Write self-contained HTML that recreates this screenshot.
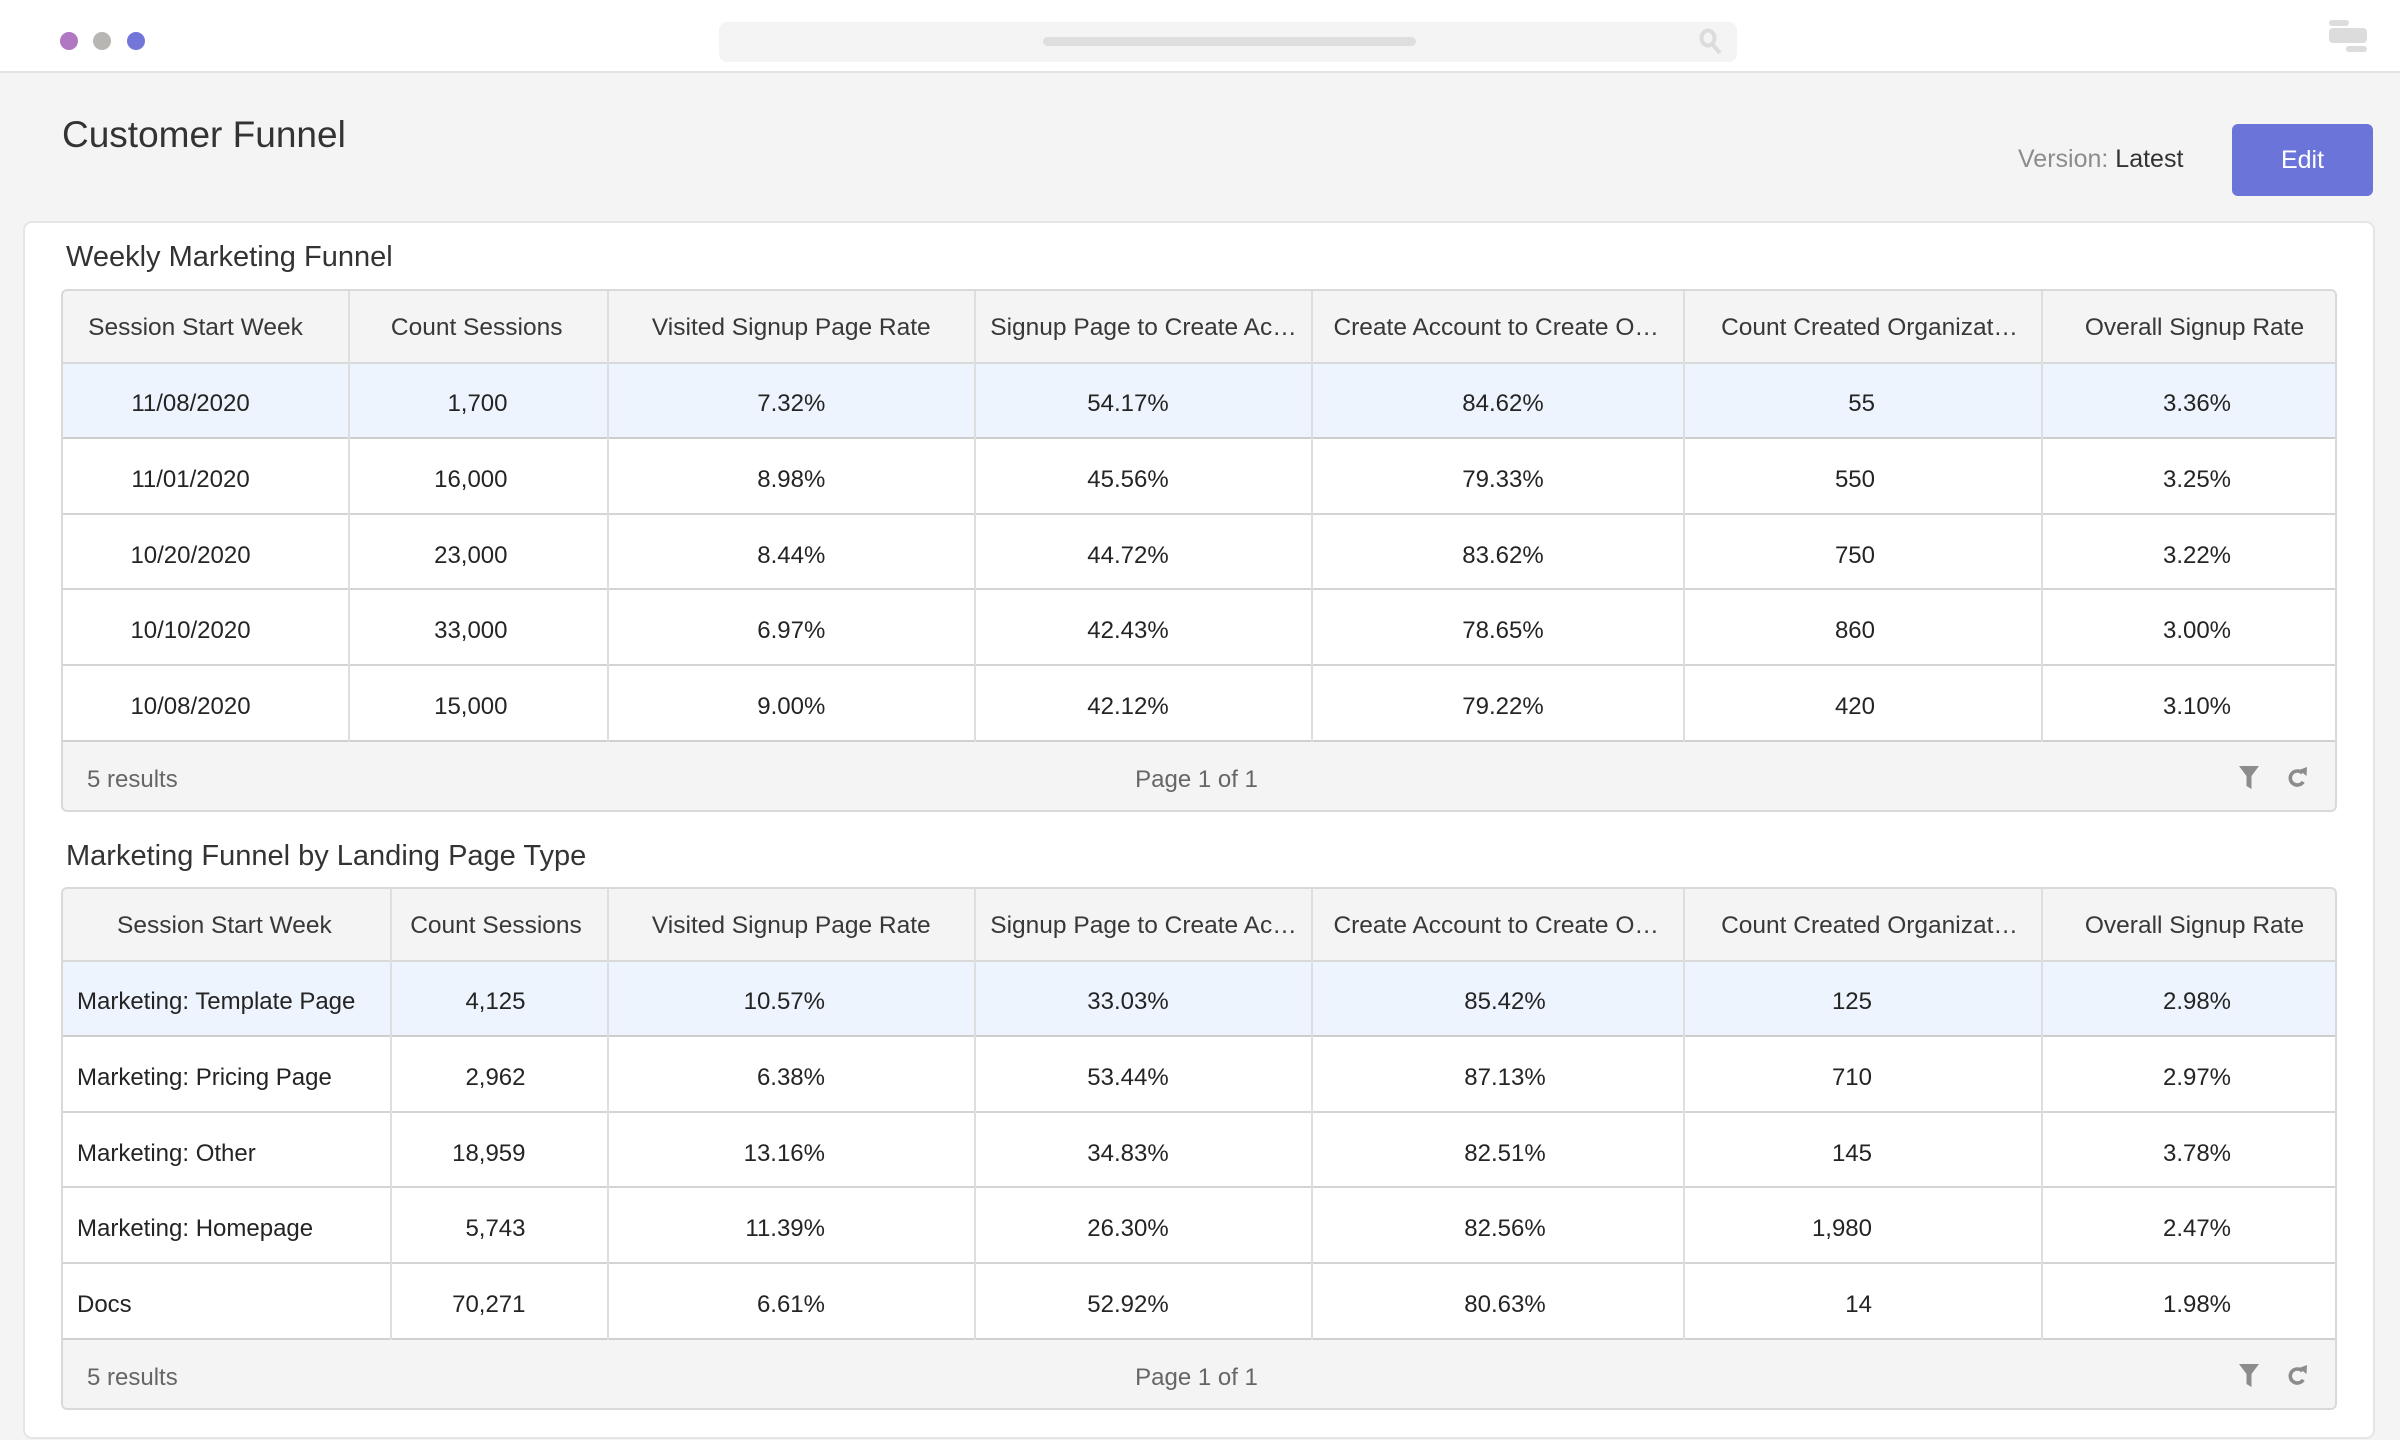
<!DOCTYPE html>
<html><head><meta charset="utf-8">
<style>
*{box-sizing:border-box;margin:0;padding:0}
html,body{width:2400px;height:1440px;overflow:hidden}
body{position:relative;background:#f4f4f4;font-family:"Liberation Sans",Arial,sans-serif;color:#333}
.a{position:absolute}
.t{position:absolute;white-space:nowrap}
.h{font-size:24.5px;line-height:24.5px;color:#383838;top:27.3px}
.b{font-size:24px;line-height:24px;color:#242424}
.c{width:600px;text-align:center}
.r{width:600px;text-align:right}
.tbl{position:absolute;left:61px;width:2276px;height:523px;overflow:hidden;border-radius:6px;background:#fff}
.hl{position:absolute;left:0;width:2276px;height:2px;background:#d4d4d4}
.vl{position:absolute;top:0;width:2px;height:453px;background:#dedede}
.bd{position:absolute;left:0;top:0;width:2276px;height:523px;border:2px solid #d9d9d9;border-radius:6px}
.y0{top:103.2px}.y1{top:178.7px}.y2{top:254.7px}.y3{top:330.2px}.y4{top:405.7px}
.ft{font-size:24px;line-height:24px;color:#666;top:478.7px}
</style></head><body>

<!-- top bar -->
<div class="a" style="left:0;top:0;width:2400px;height:71px;background:#fff"></div>
<div class="a" style="left:0;top:71px;width:2400px;height:2px;background:#e3e3e3"></div>
<div class="a" style="left:60px;top:32px;width:18px;height:18px;border-radius:50%;background:#b078c3"></div>
<div class="a" style="left:93px;top:32px;width:18px;height:18px;border-radius:50%;background:#b7b6b2"></div>
<div class="a" style="left:127px;top:32px;width:18px;height:18px;border-radius:50%;background:#7276d8"></div>
<div class="a" style="left:719px;top:22px;width:1018px;height:40px;border-radius:8px;background:#f4f4f4"></div>
<div class="a" style="left:1043px;top:37px;width:373px;height:9px;border-radius:5px;background:#dedede"></div>
<svg class="a" style="left:1696px;top:27px" width="30" height="30" viewBox="0 0 30 30">
<ellipse cx="12" cy="11" rx="6.5" ry="7.5" fill="none" stroke="#dcdcdc" stroke-width="4"/>
<line x1="16" y1="17" x2="24" y2="26" stroke="#dcdcdc" stroke-width="4"/>
</svg>
<div class="a" style="left:2329px;top:20px;width:20px;height:6px;border-radius:3px;background:#dcdcdc"></div>
<div class="a" style="left:2329px;top:28px;width:38px;height:15px;border-radius:4px;background:#dcdcdc"></div>
<div class="a" style="left:2346px;top:46px;width:21px;height:6px;border-radius:3px;background:#dcdcdc"></div>

<!-- page header -->
<div class="t" style="left:62px;top:115.7px;font-size:37px;line-height:37px;color:#333">Customer Funnel</div>
<div class="t" style="left:2018px;top:146.8px;font-size:25px;line-height:25px"><span style="color:#8c8c8c">Version:</span> <span style="color:#333">Latest</span></div>
<div class="a" style="left:2232px;top:124px;width:141px;height:72px;border-radius:6px;background:#6b74d8;color:#fff;font-size:25px;line-height:72px;text-align:center">Edit</div>

<!-- card -->
<div class="a" style="left:23px;top:221px;width:2352px;height:1218px;background:#fff;border:2px solid #e5e5e5;border-radius:9px"></div>

<div class="t" style="left:66px;top:242.5px;font-size:29px;line-height:29px;color:#333">Weekly Marketing Funnel</div>
<div class="t" style="left:66px;top:841.5px;font-size:29px;line-height:29px;color:#333">Marketing Funnel by Landing Page Type</div>

<!-- TABLE 1 -->
<div class="tbl" style="top:289px">
<div class="a" style="left:0;top:0;width:2276px;height:73px;background:#f4f4f4"></div>
<div class="a" style="left:0;top:75px;width:2276px;height:73px;background:#edf4fd"></div>
<div class="a" style="left:0;top:453px;width:2276px;height:70px;background:#f4f4f4"></div>
<div class="hl" style="top:73px;background:#d9d9d9"></div>
<div class="hl" style="top:148px;background:#cdcdcd"></div>
<div class="hl" style="top:224px"></div>
<div class="hl" style="top:299px"></div>
<div class="hl" style="top:375px"></div>
<div class="hl" style="top:451px;background:#d0d0d0"></div>
<div class="vl" style="left:287px"></div>
<div class="vl" style="left:546px"></div>
<div class="vl" style="left:913px"></div>
<div class="vl" style="left:1250px"></div>
<div class="vl" style="left:1622px"></div>
<div class="vl" style="left:1980px"></div>

<div class="t h c" style="left:-165.5px">Session Start Week</div>
<div class="t h c" style="left:115.7px">Count Sessions</div>
<div class="t h c" style="left:430.3px">Visited Signup Page Rate</div>
<div class="t h c" style="left:782.5px">Signup Page to Create Ac…</div>
<div class="t h c" style="left:1135.2px">Create Account to Create O…</div>
<div class="t h c" style="left:1508.5px">Count Created Organizat…</div>
<div class="t h c" style="left:1833.5px">Overall Signup Rate</div>

<div class="t b c y0" style="left:-170.5px">11/08/2020</div>
<div class="t b c y1" style="left:-170.5px">11/01/2020</div>
<div class="t b c y2" style="left:-170.5px">10/20/2020</div>
<div class="t b c y3" style="left:-170.5px">10/10/2020</div>
<div class="t b c y4" style="left:-170.5px">10/08/2020</div>

<div class="t b r y0" style="left:-153.5px">1,700</div>
<div class="t b r y1" style="left:-153.5px">16,000</div>
<div class="t b r y2" style="left:-153.5px">23,000</div>
<div class="t b r y3" style="left:-153.5px">33,000</div>
<div class="t b r y4" style="left:-153.5px">15,000</div>

<div class="t b c y0" style="left:430.3px">7.32%</div>
<div class="t b c y1" style="left:430.3px">8.98%</div>
<div class="t b c y2" style="left:430.3px">8.44%</div>
<div class="t b c y3" style="left:430.3px">6.97%</div>
<div class="t b c y4" style="left:430.3px">9.00%</div>

<div class="t b c y0" style="left:767px">54.17%</div>
<div class="t b c y1" style="left:767px">45.56%</div>
<div class="t b c y2" style="left:767px">44.72%</div>
<div class="t b c y3" style="left:767px">42.43%</div>
<div class="t b c y4" style="left:767px">42.12%</div>

<div class="t b c y0" style="left:1142px">84.62%</div>
<div class="t b c y1" style="left:1142px">79.33%</div>
<div class="t b c y2" style="left:1142px">83.62%</div>
<div class="t b c y3" style="left:1142px">78.65%</div>
<div class="t b c y4" style="left:1142px">79.22%</div>

<div class="t b r y0" style="left:1214px">55</div>
<div class="t b r y1" style="left:1214px">550</div>
<div class="t b r y2" style="left:1214px">750</div>
<div class="t b r y3" style="left:1214px">860</div>
<div class="t b r y4" style="left:1214px">420</div>

<div class="t b c y0" style="left:1836px">3.36%</div>
<div class="t b c y1" style="left:1836px">3.25%</div>
<div class="t b c y2" style="left:1836px">3.22%</div>
<div class="t b c y3" style="left:1836px">3.00%</div>
<div class="t b c y4" style="left:1836px">3.10%</div>

<div class="t ft" style="left:26px">5 results</div>
<div class="t ft c" style="left:835.5px">Page 1 of 1</div>
<svg class="a" style="left:2178px;top:477px" width="20" height="23" viewBox="0 0 20 23"><polygon points="0,0 20,0 12.5,10 12.5,23 7.5,20 7.5,10" fill="#8c8c8c"/></svg>
<svg class="a" style="left:2226px;top:477px" width="22" height="23" viewBox="0 0 22 23"><path d="M15.4 7.2 A7 7 0 1 0 16.2 15.8" fill="none" stroke="#8c8c8c" stroke-width="3.6"/><polygon points="12,4 20,1 19.5,10" fill="#8c8c8c"/></svg>
<div class="bd"></div>
</div>

<!-- TABLE 2 -->
<div class="tbl" style="top:887px">
<div class="a" style="left:0;top:0;width:2276px;height:73px;background:#f4f4f4"></div>
<div class="a" style="left:0;top:75px;width:2276px;height:73px;background:#edf4fd"></div>
<div class="a" style="left:0;top:453px;width:2276px;height:70px;background:#f4f4f4"></div>
<div class="hl" style="top:73px;background:#d9d9d9"></div>
<div class="hl" style="top:148px;background:#cdcdcd"></div>
<div class="hl" style="top:224px"></div>
<div class="hl" style="top:299px"></div>
<div class="hl" style="top:375px"></div>
<div class="hl" style="top:451px;background:#d0d0d0"></div>
<div class="vl" style="left:329px"></div>
<div class="vl" style="left:546px"></div>
<div class="vl" style="left:913px"></div>
<div class="vl" style="left:1250px"></div>
<div class="vl" style="left:1622px"></div>
<div class="vl" style="left:1980px"></div>

<div class="t h c" style="left:-136.6px">Session Start Week</div>
<div class="t h c" style="left:135px">Count Sessions</div>
<div class="t h c" style="left:430.3px">Visited Signup Page Rate</div>
<div class="t h c" style="left:782.5px">Signup Page to Create Ac…</div>
<div class="t h c" style="left:1135.2px">Create Account to Create O…</div>
<div class="t h c" style="left:1508.5px">Count Created Organizat…</div>
<div class="t h c" style="left:1833.5px">Overall Signup Rate</div>

<div class="t b y0" style="left:16px">Marketing: Template Page</div>
<div class="t b y1" style="left:16px">Marketing: Pricing Page</div>
<div class="t b y2" style="left:16px">Marketing: Other</div>
<div class="t b y3" style="left:16px">Marketing: Homepage</div>
<div class="t b y4" style="left:16px">Docs</div>

<div class="t b r y0" style="left:-135.5px">4,125</div>
<div class="t b r y1" style="left:-135.5px">2,962</div>
<div class="t b r y2" style="left:-135.5px">18,959</div>
<div class="t b r y3" style="left:-135.5px">5,743</div>
<div class="t b r y4" style="left:-135.5px">70,271</div>

<div class="t b r y0" style="left:164px">10.57%</div>
<div class="t b r y1" style="left:164px">6.38%</div>
<div class="t b r y2" style="left:164px">13.16%</div>
<div class="t b r y3" style="left:164px">11.39%</div>
<div class="t b r y4" style="left:164px">6.61%</div>

<div class="t b c y0" style="left:767px">33.03%</div>
<div class="t b c y1" style="left:767px">53.44%</div>
<div class="t b c y2" style="left:767px">34.83%</div>
<div class="t b c y3" style="left:767px">26.30%</div>
<div class="t b c y4" style="left:767px">52.92%</div>

<div class="t b c y0" style="left:1144px">85.42%</div>
<div class="t b c y1" style="left:1144px">87.13%</div>
<div class="t b c y2" style="left:1144px">82.51%</div>
<div class="t b c y3" style="left:1144px">82.56%</div>
<div class="t b c y4" style="left:1144px">80.63%</div>

<div class="t b r y0" style="left:1211px">125</div>
<div class="t b r y1" style="left:1211px">710</div>
<div class="t b r y2" style="left:1211px">145</div>
<div class="t b r y3" style="left:1211px">1,980</div>
<div class="t b r y4" style="left:1211px">14</div>

<div class="t b c y0" style="left:1836px">2.98%</div>
<div class="t b c y1" style="left:1836px">2.97%</div>
<div class="t b c y2" style="left:1836px">3.78%</div>
<div class="t b c y3" style="left:1836px">2.47%</div>
<div class="t b c y4" style="left:1836px">1.98%</div>

<div class="t ft" style="left:26px">5 results</div>
<div class="t ft c" style="left:835.5px">Page 1 of 1</div>
<svg class="a" style="left:2178px;top:477px" width="20" height="23" viewBox="0 0 20 23"><polygon points="0,0 20,0 12.5,10 12.5,23 7.5,20 7.5,10" fill="#8c8c8c"/></svg>
<svg class="a" style="left:2226px;top:477px" width="22" height="23" viewBox="0 0 22 23"><path d="M15.4 7.2 A7 7 0 1 0 16.2 15.8" fill="none" stroke="#8c8c8c" stroke-width="3.6"/><polygon points="12,4 20,1 19.5,10" fill="#8c8c8c"/></svg>
<div class="bd"></div>
</div>

</body></html>
